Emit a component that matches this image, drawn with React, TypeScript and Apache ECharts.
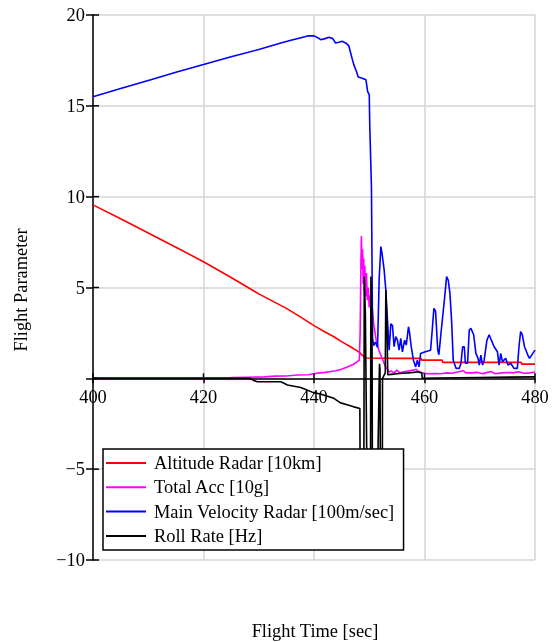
import React, { useEffect, useRef } from "react";
import * as echarts from "echarts";

const FONT = "Liberation Serif";
const FONT_SIZE = 18.4;

const seriesNames = [
  "Altitude Radar [10km]",
  "Total Acc [10g]",
  "Main Velocity Radar [100m/sec]",
  "Roll Rate [Hz]",
];
const seriesColors = ["#ff0000", "#ff00ff", "#0000ff", "#000000"];

const xTicks = { min: 400, max: 480, interval: 20 };
const yTicks = { min: -10, max: 20, interval: 5 };
const xTickValues = [400, 420, 440, 460, 480];
const yTickValues = [-10, -5, 0, 5, 10, 15, 20];

const altitudeRadar: [number, number][] = [
  [400, 9.55], [405, 8.78], [410, 8.0], [415, 7.22], [420, 6.42], [425, 5.55],
  [430, 4.65], [435, 3.85], [437.6, 3.37], [440, 2.9], [442, 2.55], [443.6, 2.29],
  [445, 2.02], [446.6, 1.74], [448.1, 1.46], [448.8, 1.25], [449.4, 1.12],
  [455, 1.1], [459.4, 1.1], [459.5, 1.0], [463.2, 1.0], [463.3, 0.88],
  [477.5, 0.88], [477.6, 0.78], [480, 0.78],
];

const totalAcc: [number, number][] = [
  [400, 0.03], [420, 0.03], [425, 0.04], [428, 0.06], [431, 0.08], [433, 0.12],
  [435, 0.13], [437, 0.18], [439, 0.2], [440, 0.25], [441, 0.3], [442, 0.33],
  [443, 0.38], [444, 0.42], [445, 0.5], [446, 0.62], [447, 0.75], [447.8, 0.9],
  [448.2, 1.0], [448.35, 2.5], [448.5, 6.5], [448.58, 7.84], [448.7, 6.0],
  [448.8, 7.1], [448.9, 5.2], [449.0, 6.6], [449.1, 4.8], [449.2, 6.2],
  [449.35, 4.5], [449.5, 5.8], [449.65, 4.3], [449.8, 5.0], [450.0, 3.9],
  [450.2, 4.6], [450.4, 3.6], [450.57, 3.8], [450.8, 3.0], [451.0, 2.6],
  [451.2, 2.2], [451.5, 1.8], [451.8, 1.5], [452.2, 1.2], [452.6, 0.9],
  [453.0, 0.6], [453.3, 0.5], [453.6, 0.35], [454, 0.4], [454.5, 0.3],
  [455, 0.45], [455.5, 0.3], [456, 0.35], [457, 0.4], [458, 0.45], [458.5, 0.5],
  [459, 0.35], [459.5, 0.3], [460.5, 0.25], [462, 0.27], [463, 0.25], [464, 0.3],
  [465, 0.28], [466, 0.35], [467, 0.42], [467.5, 0.3], [468.5, 0.3],
  [469.5, 0.33], [470.5, 0.25], [471, 0.3], [472, 0.38], [472.8, 0.25],
  [474, 0.3], [475, 0.32], [476, 0.3], [477, 0.36], [478, 0.28], [479, 0.3],
  [480, 0.35],
];

const mainVelocityRadar: [number, number][] = [
  [400, 15.5], [405, 15.95], [410, 16.4], [415, 16.85], [420, 17.27],
  [425, 17.7], [430, 18.1], [434, 18.46], [436, 18.62], [438, 18.78],
  [439, 18.86], [440, 18.85], [440.7, 18.75], [441.2, 18.64], [442, 18.7],
  [442.7, 18.77], [443.4, 18.7], [443.9, 18.46], [444.5, 18.5], [445.1, 18.55],
  [445.8, 18.45], [446.3, 18.3], [446.6, 17.95], [446.9, 17.6], [447.2, 17.27],
  [447.7, 16.88], [448.0, 16.59], [448.6, 16.53], [449.4, 16.44], [449.7, 15.8],
  [450.0, 15.6], [450.1, 13.8], [450.4, 10.5], [450.6, 2.2], [450.8, 1.8],
  [451.1, 2.0], [451.5, 1.7], [451.8, 5.5], [452.1, 7.25], [452.3, 6.9],
  [452.7, 5.96], [453.0, 4.86], [453.3, 3.2], [453.6, 1.55], [453.9, 3.0],
  [454.2, 2.9], [454.5, 1.74], [454.8, 2.3], [455.1, 2.1], [455.4, 1.55],
  [455.7, 2.2], [456.0, 1.46], [456.4, 2.1], [456.7, 1.83], [457.1, 2.84],
  [457.3, 2.5], [457.6, 1.74], [458.0, 1.0], [458.4, 0.63], [458.7, 1.0],
  [459.0, 0.63], [459.3, 1.37], [460.0, 1.45], [461.1, 1.55], [461.4, 2.66],
  [461.7, 3.85], [462.0, 3.7], [462.4, 1.55], [462.6, 1.3], [463.1, 2.84],
  [463.6, 4.31], [464.0, 5.6], [464.3, 5.4], [464.6, 4.68], [464.9, 3.2],
  [465.2, 1.0], [465.7, 0.55], [466.3, 0.55], [466.6, 0.83], [466.9, 1.74],
  [467.2, 1.74], [467.4, 0.83], [467.8, 0.83], [468.1, 2.66], [468.4, 2.75],
  [468.9, 2.4], [469.3, 1.37], [469.7, 1.1], [469.9, 0.73], [470.2, 1.28],
  [470.5, 0.73], [470.8, 1.0], [471.3, 2.1], [471.7, 2.4], [472.1, 2.1],
  [472.6, 1.74], [473.2, 1.46], [473.5, 0.73], [473.8, 1.37], [474.1, 0.92],
  [474.7, 1.1], [475.1, 0.73], [475.6, 0.83], [476.2, 0.55], [476.8, 0.55],
  [477.1, 1.74], [477.4, 2.57], [477.7, 2.4], [478.1, 1.74], [478.7, 1.28],
  [479.0, 1.1], [479.4, 1.28], [480, 1.55],
];

const rollRate: [number, number][] = [
  [400, 0], [428.5, 0], [429, -0.1], [429.7, -0.19], [434, -0.19],
  [435.2, -0.37], [437.6, -0.5], [440, -0.8], [441, -0.85], [442, -0.95],
  [443.6, -1.1], [444.8, -1.35], [446, -1.45], [447.2, -1.57], [448.3, -1.66],
  [448.4, -9], [449.0, -9], [449.1, 5.6], [449.3, 3.5], [449.7, -9],
  [450.2, -9], [450.3, 5.6], [450.5, 3.0], [450.6, -9], [451.3, -9],
  [451.85, 0.8], [451.95, 0.5], [452.05, -9], [452.35, -9], [452.4, 0.0],
  [452.9, 0.3], [453.0, 4.86], [453.2, 3.0], [453.35, 0.2], [454, 0.22],
  [455, 0.25], [456, 0.28], [457, 0.3], [458, 0.33], [458.8, 0.36],
  [459.5, 0.3], [459.6, 0.0], [462, 0.02], [470, 0.05], [480, 0.08],
];

const seriesData = [altitudeRadar, totalAcc, mainVelocityRadar, rollRate];

const xAxisTitle = "Flight Time [sec]";
const yAxisTitle = "Flight Parameter";

export default function App() {
  const ref = useRef<HTMLDivElement>(null);
  useEffect(() => {
    if (!ref.current) return;
    const chart = echarts.init(ref.current, undefined, { renderer: "svg" });
    const labelStyle = { fontSize: FONT_SIZE, fontFamily: FONT, color: "#000" };
    const gridLine = { show: true, lineStyle: { color: "#d4d4d4", width: 1.5, type: "solid" } };
    chart.setOption({
      animation: false,
      grid: { left: 93, top: 15, width: 442, height: 545 },
      xAxis: {
        type: "value", ...xTicks, position: "bottom", offset: 0,
        axisLine: { show: true, onZero: false, lineStyle: { color: "#000", width: 1.5 } },
        axisTick: { show: true, inside: false, length: 5, lineStyle: { color: "#000", width: 1.5 } },
        axisLabel: { ...labelStyle, margin: 10, showMinLabel: true, showMaxLabel: true },
        splitLine: gridLine,
      },
      yAxis: {
        type: "value", ...yTicks,
        axisLine: { show: true, onZero: false, lineStyle: { color: "#000", width: 1.5 } },
        axisTick: { show: true, inside: false, length: 7, lineStyle: { color: "#000", width: 1.5 } },
        axisLabel: {
          ...labelStyle, margin: 8,
          formatter: (v: number) => (v === 0 ? "" : String(v).replace("-", "\u2212")),
        },
        splitLine: gridLine,
      },
      legend: {
        data: seriesNames,
        orient: "vertical",
        left: 103,
        top: 449,
        padding: [5, 9, 5, 3],
        itemWidth: 40,
        itemHeight: 2,
        itemGap: 6.3,
        icon: "rect",
        selectedMode: false,
        backgroundColor: "#fff",
        borderColor: "#000",
        borderWidth: 1.5,
        borderRadius: 0,
        z: 10,
        textStyle: { ...labelStyle, lineHeight: 18, padding: [0, 0, 0, 3] },
      },
      series: seriesNames.map((name, i) => ({
        name,
        type: "line",
        data: seriesData[i],
        symbol: "none",
        showSymbol: false,
        clip: true,
        lineStyle: { color: seriesColors[i], width: 1.6 },
        itemStyle: { color: seriesColors[i] },
        z: 2 + i * 0.1,
      })),
    });

    const px = (x: number, y: number) =>
      chart.convertToPixel({ xAxisIndex: 0, yAxisIndex: 0 }, [x, y]) as number[];
    // move the x axis (line, ticks, labels) up to the zero of the y axis
    const zeroY = px(xTicks.min, 0)[1];
    const bottomY = px(xTicks.min, yTicks.min)[1];
    const extra: any[] = [];
    xTickValues.forEach((t) => {
      const p = px(t, 0);
      extra.push({ type: "line", z: 5, shape: { x1: p[0], y1: p[1], x2: p[0], y2: p[1] - 5 }, style: { stroke: "#000", lineWidth: 1.5 } });
    });
    yTickValues.forEach((v) => {
      const p = px(xTicks.min, v);
      extra.push({ type: "line", z: 5, shape: { x1: p[0], y1: p[1], x2: p[0] + 6, y2: p[1] }, style: { stroke: "#000", lineWidth: 1.5 } });
    });
    chart.setOption({
      xAxis: { offset: -(bottomY - zeroY) },
      graphic: [
        {
          type: "text", x: 315, y: 631,
          style: { text: xAxisTitle, fontSize: FONT_SIZE, fontFamily: FONT, fill: "#000", align: "center", verticalAlign: "middle" },
        },
        {
          type: "text", x: 21, y: 290, rotation: Math.PI / 2,
          style: { text: yAxisTitle, fontSize: FONT_SIZE, fontFamily: FONT, fill: "#000", align: "center", verticalAlign: "middle" },
        },
        ...extra,
      ],
    });
    return () => chart.dispose();
  }, []);
  return (
    <div
      ref={ref}
      style={{ position: "fixed", left: 0, top: 0, width: 554, height: 642 }}
    />
  );
}
